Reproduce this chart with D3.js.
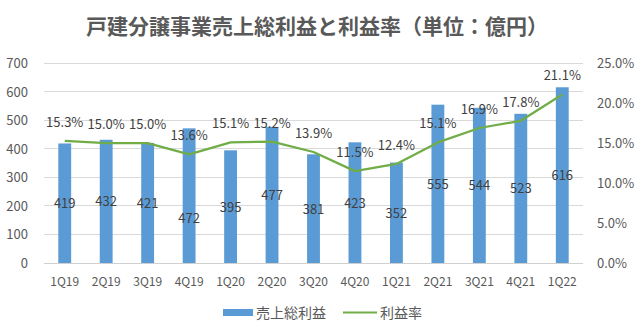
<!DOCTYPE html>
<html><head><meta charset="utf-8">
<script src="https://cdn.jsdelivr.net/npm/d3@7"></script>
<style>
html,body{margin:0;padding:0;background:#fff;}
svg{display:block;}
text{font-family:"Noto Sans CJK JP","Noto Sans",sans-serif;}
</style></head><body>
<svg id="c" width="640" height="335"></svg>
<script>
const categories = ["1Q19","2Q19","3Q19","4Q19","1Q20","2Q20","3Q20","4Q20","1Q21","2Q21","3Q21","4Q21","1Q22"];
const grossProfit = [419,432,421,472,395,477,381,423,352,555,544,523,616];
const marginRate = [15.3,15.0,15.0,13.6,15.1,15.2,13.9,11.5,12.4,15.1,16.9,17.8,21.1];
const leftTicks = [0,100,200,300,400,500,600,700];
const rightTicks = [0,5,10,15,20,25];
const title = "戸建分譲事業売上総利益と利益率（単位：億円）";
const seriesNames = ["売上総利益","利益率"];

const svg = d3.select("#c");
const X0 = 44, X1 = 583, Y0 = 263, Y1 = 63.3;
const text = "#595959";

const x = d3.scaleBand().domain(categories).range([X0, X1]).paddingInner(0.69).paddingOuter(0.345);
const y = d3.scaleLinear().domain([0,700]).range([Y0, Y1]);
const y2 = d3.scaleLinear().domain([0,25]).range([Y0, Y1]);
const cx = d => x(d) + x.bandwidth()/2;

// title
svg.append("text").attr("x", 317).attr("y", 34).attr("text-anchor","middle")
  .attr("font-size", 21).attr("font-weight", "bold").attr("fill", text).text(title);

// gridlines
svg.append("g").selectAll("line").data(leftTicks).join("line")
  .attr("x1", X0).attr("x2", X1).attr("y1", d => y(d)).attr("y2", d => y(d))
  .attr("stroke", d => d===0 ? "#D0D0D0" : "#D9D9D9").attr("stroke-width", 1).attr("shape-rendering","crispEdges");

// left axis
const la = svg.append("g").attr("transform", `translate(${X0},0)`)
  .call(d3.axisLeft(y).tickValues(leftTicks).tickSize(0).tickPadding(16));
la.select(".domain").remove();
la.selectAll("text").attr("font-size", 13).attr("fill", text).attr("font-family", "\"Noto Sans CJK JP\",sans-serif");

// right axis
const ra = svg.append("g").attr("transform", `translate(${X1},0)`)
  .call(d3.axisRight(y2).tickValues(rightTicks).tickSize(0).tickPadding(14).tickFormat(d => d.toFixed(1) + "%"));
ra.select(".domain").remove();
ra.selectAll("text").attr("font-size", 13).attr("fill", text).attr("font-family", "\"Noto Sans CJK JP\",sans-serif");

// bottom axis
const ba = svg.append("g").attr("transform", `translate(0,${Y0})`)
  .call(d3.axisBottom(x).tickSize(0).tickPadding(14));
ba.select(".domain").remove();
ba.selectAll("text").attr("font-size", 12).attr("fill", text).attr("font-family", "\"Noto Sans CJK JP\",sans-serif");

// bars
svg.append("g").selectAll("rect").data(categories).join("rect")
  .attr("x", d => x(d)).attr("width", x.bandwidth())
  .attr("y", (d,i) => y(grossProfit[i])).attr("height", (d,i) => Y0 - y(grossProfit[i]))
  .attr("fill", "#5B9BD5");

// line
const line = d3.line().x((d,i) => cx(categories[i])).y(d => y2(d));
svg.append("path").datum(marginRate).attr("d", line).attr("fill","none")
  .attr("stroke","#70AD47").attr("stroke-width", 2.25).attr("stroke-linejoin","round");

// bar labels (centered; 4Q19 moved down manually as in source)
const nudge = {"4Q19": 22};
svg.append("g").selectAll("text").data(categories).join("text")
  .attr("x", d => cx(d))
  .attr("y", (d,i) => (y(grossProfit[i]) + Y0)/2 + 5 + (nudge[d] || 0))
  .attr("text-anchor","middle").attr("font-size", 13).attr("fill", "#404040")
  .text((d,i) => grossProfit[i]);

// rate labels
svg.append("g").selectAll("text").data(categories).join("text")
  .attr("x", d => cx(d))
  .attr("y", (d,i) => y2(marginRate[i]) - 14)
  .attr("text-anchor","middle").attr("font-size", 13).attr("fill", "#404040")
  .text((d,i) => marginRate[i].toFixed(1) + "%");

// legend
const lg = svg.append("g");
lg.append("rect").attr("x", 223).attr("y", 309).attr("width", 30).attr("height", 7).attr("fill", "#5B9BD5");
lg.append("text").attr("x", 256).attr("y", 317.5).attr("font-size", 14).attr("fill", text).text(seriesNames[0]);
lg.append("line").attr("x1", 343).attr("x2", 377).attr("y1", 312.5).attr("y2", 312.5).attr("stroke", "#70AD47").attr("stroke-width", 2);
lg.append("text").attr("x", 380).attr("y", 317.5).attr("font-size", 14).attr("fill", text).text(seriesNames[1]);
</script>
</body></html>
